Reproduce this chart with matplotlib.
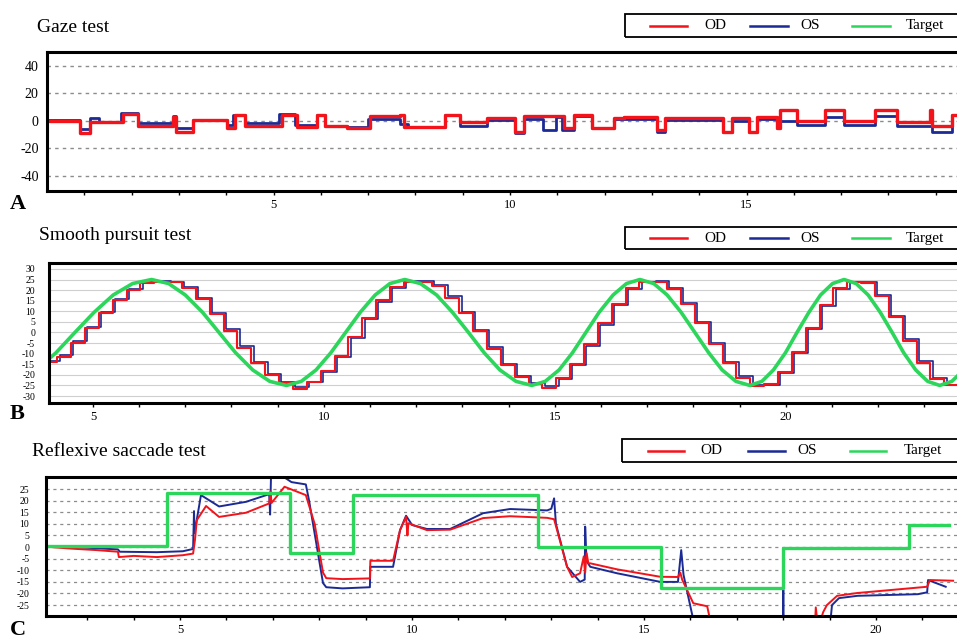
import numpy as np
import matplotlib
matplotlib.use('Agg')
import matplotlib.pyplot as plt
from matplotlib.lines import Line2D
from matplotlib.patches import Rectangle

plt.rcParams['font.family'] = ['Liberation Serif', 'DejaVu Serif']
plt.rcParams['axes.unicode_minus'] = False

W, H = 957, 639
RED = '#f2131b'
BLUE = '#1b2a94'
GREEN = '#2bd65a'

# ---------------- A: gaze test (held positions) ----------------
gaze_od_t = [0.2, 0.91, 1.12, 1.82, 2.14, 2.88, 2.93, 3.30, 4.02, 4.19, 4.40, 5.18, 5.50,
             5.92, 6.09, 6.55, 7.04, 7.67, 7.75, 8.63, 8.94, 9.51, 10.1, 10.3, 11.15, 11.35,
             11.73, 12.2, 12.4, 13.1, 13.28, 14.5, 14.69, 15.05, 15.22, 15.64, 15.71, 16.07,
             16.66, 17.06, 17.72, 18.18, 18.88, 18.92, 19.35]
gaze_od_v = [0, -9, -0.5, 4.8, -4, 3, -8, 0.5, -5, 4.2, -4, 4.5, -4.5,
             4, -4, -5, 3.3, 4.5, -4.4, 4, -1, 2, -8, 3.4, -5.5, 4,
             -5, 2, 3, -7, 2, -8, 2, -8, 3, -5, 7.5, 0,
             7.5, 0, 7.5, -0.5, 8, -4, 4]
gaze_os_t = [0.2, 0.91, 1.12, 1.3, 1.78, 2.14, 2.88, 2.93, 3.30, 4.02, 4.15, 4.40, 5.12,
             5.45, 5.92, 6.09, 6.55, 7.0, 7.67, 7.84, 8.63, 8.94, 9.51, 10.1, 10.3, 10.7,
             10.97, 11.1, 11.35, 11.73, 12.2, 13.1, 13.28, 14.5, 14.69, 15.05, 15.22, 15.64,
             15.71, 16.07, 16.66, 17.06, 17.72, 18.18, 18.92, 19.35]
gaze_os_v = [0.5, -6, 2, -1, 5.5, -1.5, 3.5, -5.5, 0.5, -3, 4.5, -1.5, 5,
             -3, 4, -3.5, -4.5, 1.5, -2, -4.4, 4, -4, 0.5, -9, 1.5, -7,
             3, -7, 3.5, -5, 1, -8, 0.5, -8, 0, -8, 1, -5,
             0, -3, 3, -3, 3.5, -4, -8, 4]
gaze_end = 19.6

# ---------------- B: smooth pursuit ----------------
pursuit_target_t = [3.78, 4.2, 4.61, 5.03, 5.44, 5.86, 6.27, 6.64, 7.0, 7.37, 7.73, 8.09, 8.46,
                    8.83, 9.19, 9.51, 9.83, 10.15, 10.47, 10.79, 11.11, 11.43, 11.75, 12.09,
                    12.44, 12.78, 13.13, 13.47, 13.81, 14.16, 14.5, 14.79, 15.09, 15.38, 15.67,
                    15.96, 16.26, 16.55, 16.84, 17.14, 17.43, 17.73, 18.03, 18.33, 18.62, 18.92,
                    19.22, 19.48, 19.73, 19.99, 20.24, 20.5, 20.75, 21.01, 21.26, 21.52, 21.78,
                    22.04, 22.3, 22.55, 22.81, 23.07, 23.33, 23.59, 23.85, 24.1]
pursuit_target_v = [-17.7, -9.6, 0, 9.6, 17.7, 23.1, 25, 23.1, 17.7, 9.6, 0, -9.6, -17.7,
                    -23.1, -25, -23.1, -17.7, -9.6, 0, 9.6, 17.7, 23.1, 25, 23.1,
                    17.7, 9.6, 0, -9.6, -17.7, -23.1, -25, -23.1, -17.7, -9.6, 0,
                    9.6, 17.7, 23.1, 25, 23.1, 17.7, 9.6, 0, -9.6, -17.7, -23.1,
                    -25, -23.1, -17.7, -9.6, 0, 9.6, 17.7, 23.1, 25, 23.1, 17.7,
                    9.6, 0, -9.6, -17.7, -23.1, -25, -23.1, -17.7, -9.6]
pursuit_step = 0.3
pursuit_od_start = 3.93
pursuit_od = [-14, -11.6, -4.9, 2.1, 9.0, 15.2, 20.2, 23.5, 24, 24, 21.0, 15.7, 8.7, 0.8,
              -7.2, -14.4, -20.1, -23.8, -26.5, -23.2, -18.3, -10.9, -2.1, 7.0, 15.1, 21.3,
              24, 24, 21.8, 16.4, 9.1, 0.7, -7.7, -15.3, -21.0, -24.4, -26, -21.5, -14.8,
              -5.6, 4.3, 13.6, 20.8, 24, 24, 20.5, 13.4, 4.3, -5.6, -14.5, -21.3, -25.5,
              -24.1, -18.5, -9.0, 2.3, 13.1, 21.2, 24, 23.3, 17.0, 7.3, -4.0, -14.4, -21.9,
              -25, -22.9]
pursuit_os_start = 3.98
pursuit_os = [-13.5, -10.8, -4.2, 2.8, 9.8, 15.8, 20.6, 23.8, 24.3, 24, 21.6, 16.2, 9.4, 1.5,
              -6.5, -13.8, -19.6, -23.4, -25.8, -23.6, -18.8, -11.4, -2.8, 6.4, 14.6, 21.0,
              24.2, 24.2, 22.3, 17.0, 9.8, 1.4, -7.0, -14.7, -20.5, -24.0, -25.4, -22.0, -15.4,
              -6.2, 3.6, 13.0, 20.3, 23.8, 24.2, 21.0, 14.0, 5.0, -4.8, -13.8, -20.7, -25.0,
              -24.6, -19.2, -9.7, 1.6, 12.4, 20.6, 23.8, 23.6, 17.6, 8.0, -3.3, -13.7, -21.3,
              -24.6, -23.4]

# ---------------- C: reflexive saccade ----------------
sacc_target_t = [2.1, 4.72, 7.37, 8.73, 12.71, 15.37, 18.0, 20.7]
sacc_target_v = [0.3, 23.5, -2.5, 22.5, 0.2, -17.6, -0.5, 9.6]
sacc_target_end = 21.57
sacc_od_t = [2.1, 2.6, 3.2, 3.66, 3.68, 4.0, 4.5, 5.06, 5.28, 5.32, 5.36, 5.56, 5.84, 6.42,
             6.92, 6.95, 6.97, 7.25, 7.71, 7.9, 8.08, 8.15, 8.5, 9.09, 9.1, 9.59, 9.74, 9.87,
             9.9, 9.92, 10.32, 10.82, 11.53, 12.11, 12.91, 13.06, 13.34, 13.45, 13.62, 13.7,
             13.73, 13.76, 13.8, 13.84, 14.42, 15.35, 15.73, 15.78, 15.82, 16.06, 16.36,
             16.46, 18.68, 18.7, 18.75, 18.86, 18.94, 19.16, 19.59, 21.1, 21.16, 21.66]
sacc_od_v = [0.2, -0.6, -1.3, -2.0, -4.3, -3.8, -4.3, -3.5, -2.8, 3, 11.6, 17.7, 13, 14.8,
             18.8, 24, 19, 26, 22.4, 10, -11, -13.4, -13.8, -13.5, -5.9, -5.9, 7.3, 13,
             5, 10.3, 7.3, 7.5, 12.5, 13.3, 12.6, 12.0, -8.5, -12.9, -11.3, -4,
             -11, -2.6, -7, -7, -9.6, -12.8, -12.9, -11, -14, -24.2, -25.5,
             -35, -35, -26, -35, -28, -25, -21, -19.8, -17.1, -14.2, -14.5]
sacc_os_t = [2.1, 3.0, 3.66, 3.7, 4.5, 5.06, 5.28, 5.30, 5.31, 5.45, 5.84, 6.42, 6.92, 6.94,
             6.96, 7.0, 7.25, 7.4, 7.71, 7.78, 8.08, 8.15, 8.5, 9.09, 9.1, 9.59, 9.74, 9.87,
             10.0, 10.32, 10.82, 11.53, 12.11, 12.91, 13.0, 13.06, 13.1, 13.34, 13.62, 13.72,
             13.73, 13.76, 13.84, 14.42, 15.35, 15.73, 15.8, 15.85, 16.1, 17.99, 18.0, 18.01,
             19.0, 19.05, 19.2, 19.6, 20.9, 21.1, 21.12, 21.5]
sacc_os_v = [0.3, -0.3, -1.0, -2.0, -2.2, -1.8, -0.8, 15.5, 6, 22.4, 17.5, 19.5, 22.8, 14,
             31, 31, 30, 28, 27, 20, -15.5, -17.3, -17.8, -17.3, -8.5, -8.5, 7.3, 13.5,
             9.5, 7.8, 7.8, 14.6, 16.4, 15.8, 16.5, 21, 10, -8.5, -15, -14,
             8.8, -6, -8.5, -11.3, -15, -15, -1.3, -12, -35, -35, -18.5, -35,
             -35, -25, -22, -21, -20.3, -19.5, -14.2, -17.1]


def fx(p):
    return p / W


def fy(p):
    return 1 - p / H


fig = plt.figure(figsize=(W / 100, H / 100), dpi=100)


def make_axes(left, top, bottom):
    ax = fig.add_axes([fx(left), fy(bottom), 1.02 - fx(left), (bottom - top) / H])
    ax.spines['right'].set_visible(False)
    for s in ['left', 'top', 'bottom']:
        ax.spines[s].set_linewidth(2.2)
    ax.tick_params(axis='x', length=3, width=1, direction='out', labelsize=9, pad=3)
    ax.tick_params(axis='y', length=0)
    return ax


def every_fifth(lo, hi):
    ticks = list(range(lo, hi + 1))
    return ticks, [str(t) if t % 5 == 0 else '' for t in ticks]


def legend_box(left, top, bottom, xs):
    fig.add_artist(Rectangle((fx(left), fy(bottom)), fx(W + 10 - left), (bottom - top) / H,
                             transform=fig.transFigure, fill=False, ec='black', lw=1.3))
    yc = fy((top + bottom) / 2)
    for (x0, x1, xt), col, lab in zip(xs, [RED, BLUE, GREEN], ['OD', 'OS', 'Target']):
        fig.add_artist(Line2D([fx(x0), fx(x1)], [yc, yc], transform=fig.transFigure,
                              color=col, lw=1.8))
        fig.text(fx(xt), yc, lab, fontsize=11, va='center', ha='left')


# ---------- A ----------
axA = make_axes(47, 52, 191)
axA.step(gaze_os_t + [gaze_end], gaze_os_v + [gaze_os_v[-1]], where='post', color=BLUE, lw=2.0)
axA.step(gaze_od_t + [gaze_end], gaze_od_v + [gaze_od_v[-1]], where='post', color=RED, lw=2.4)
axA.set_xlim(0.21, 0.21 + (W * 1.02 - 47) / 47.3)
axA.set_ylim(-51, 50)
axA.set_yticks([-40, -20, 0, 20, 40])
axA.tick_params(axis='y', labelsize=10, pad=6)
t, l = every_fifth(1, 19)
axA.set_xticks(t)
axA.set_xticklabels(l)
axA.grid(axis='y', color='#8c8c8c', ls=(0, (2.5, 3)), lw=1.0)
fig.text(fx(37), fy(28), 'Gaze test', fontsize=14, va='center')
fig.text(fx(10), fy(204), 'A', fontsize=16, fontweight='bold', va='center')
legend_box(625, 14, 37, [(650, 687, 704), (750, 788, 800), (852, 890, 906)])

# ---------- B ----------
axB = make_axes(49, 263, 403)
od_t = pursuit_od_start + pursuit_step * np.arange(len(pursuit_od))
os_t = pursuit_os_start + pursuit_step * np.arange(len(pursuit_os))
axB.step(os_t, pursuit_os, where='post', color=BLUE, lw=1.2)
axB.step(od_t, pursuit_od, where='post', color=RED, lw=1.5)
axB.plot(pursuit_target_t, pursuit_target_v, color=GREEN, lw=2.6)
axB.set_xlim(4.05, 4.05 + (W * 1.02 - 49) / 46.2)
axB.set_ylim(-33.3, 32.8)
axB.set_yticks(range(-30, 31, 5))
axB.tick_params(axis='y', labelsize=7, pad=10)
t, l = every_fifth(5, 23)
axB.set_xticks(t)
axB.set_xticklabels(l)
axB.grid(axis='y', color='#cfcfcf', ls='-', lw=0.8)
axB.set_axisbelow(True)
fig.text(fx(39), fy(236), 'Smooth pursuit test', fontsize=14, va='center')
fig.text(fx(10), fy(414), 'B', fontsize=16, fontweight='bold', va='center')
legend_box(625, 227, 249, [(650, 687, 704), (750, 788, 800), (852, 890, 906)])

# ---------- C ----------
axC = make_axes(46, 477, 616)
axC.plot(sacc_os_t, sacc_os_v, color=BLUE, lw=1.4)
axC.plot(sacc_od_t, sacc_od_v, color=RED, lw=1.4)
axC.step(sacc_target_t + [sacc_target_end], sacc_target_v + [sacc_target_v[-1]],
         where='post', color=GREEN, lw=2.4)
axC.set_xlim(2.11, 2.11 + (W * 1.02 - 46) / 46.4)
axC.set_ylim(-29.7, 30.2)
axC.set_yticks(range(-25, 26, 5))
axC.tick_params(axis='y', labelsize=7, pad=12)
t, l = every_fifth(3, 21)
axC.set_xticks(t)
axC.set_xticklabels(l)
axC.grid(axis='y', color='#8c8c8c', ls=(0, (2.5, 3)), lw=0.9)
axC.set_axisbelow(True)
fig.text(fx(32), fy(451), 'Reflexive saccade test', fontsize=14, va='center')
fig.text(fx(10), fy(630), 'C', fontsize=16, fontweight='bold', va='center')
legend_box(622, 439, 462, [(648, 684, 700), (748, 785, 797), (850, 886, 904)])

fig.savefig('out.png', dpi=100)
